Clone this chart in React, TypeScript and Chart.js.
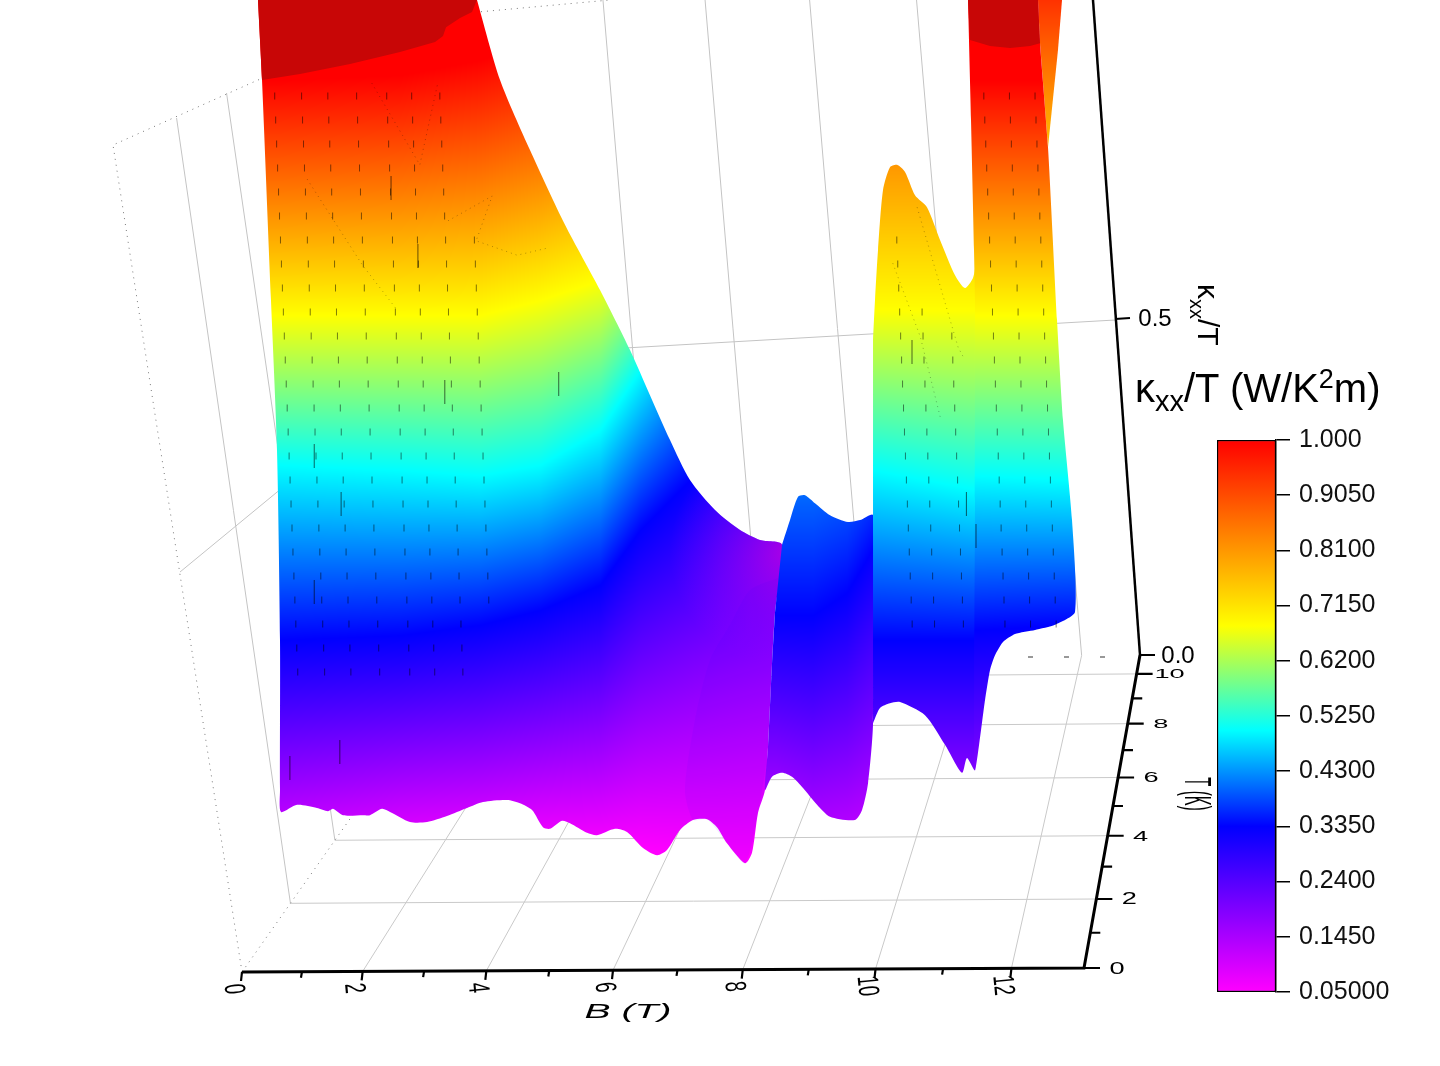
import React, { useEffect, useRef } from "react";
import { Chart, registerables } from "chart.js";

Chart.register(...registerables);

// ---------- colour scale ----------
const colorbarTicks = [1.0, 0.905, 0.81, 0.715, 0.62, 0.525, 0.43, 0.335, 0.24, 0.145, 0.05];
const colorbarLabels = ["1.000", "0.9050", "0.8100", "0.7150", "0.6200", "0.5250", "0.4300", "0.3350", "0.2400", "0.1450", "0.05000"];
const colorLevels = [1.0, 0.68, 0.5, 0.335, 0.05];
const colorRGB = [[255, 0, 0], [255, 255, 0], [0, 255, 255], [0, 0, 255], [255, 0, 255]];
const capColor = "#c80606";

// ---------- axes ----------
const bTicks = [0, 2, 4, 6, 8, 10, 12];
const bMinor = [1, 3, 5, 7, 9, 11];
const tTicks = [0, 2, 4, 6, 8, 10];
const tMinor = [1, 3, 5, 7, 9];
const bMax = 13.05;
const tMax = 10.8;

// ---------- surface outlines: B (T) and kappa/T as seen along the front ----------
const bodyB = [0.281, 0.344, 0.484, 0.578, 0.625, 0.625, 0.641, 0.891, 1.203, 1.375, 1.453, 1.609, 1.922, 2.031, 2.219, 2.344, 2.656, 2.922, 3.234, 3.547, 3.797, 4.172, 4.375, 4.563, 4.734, 4.844, 5.031, 5.156, 5.422, 5.578, 5.859, 6.047, 6.297, 6.516, 6.672, 6.875, 7.078, 7.297, 7.453, 7.609, 7.891, 8.0, 8.094, 8.203, 8.25, 8.313, 8.359, 8.469, 8.125, 7.813, 7.422, 7.031, 6.719, 6.406, 6.094, 5.625, 5.078, 4.531, 4.063, 3.703];
const bodyK = [1.1, 1.0, 0.725, 0.5375, 0.3, 0.1125, 0.085, 0.094, 0.09, 0.086, 0.089, 0.081, 0.081, 0.081, 0.089, 0.085, 0.0725, 0.0725, 0.08, 0.09, 0.0975, 0.1, 0.096, 0.0875, 0.066, 0.064, 0.074, 0.071, 0.059, 0.056, 0.064, 0.06, 0.04, 0.031, 0.0375, 0.0625, 0.075, 0.076, 0.066, 0.046, 0.021, 0.034, 0.084, 0.1125, 0.166, 0.271, 0.334, 0.419, 0.425, 0.4375, 0.4625, 0.5, 0.55, 0.606, 0.6625, 0.7375, 0.819, 0.9125, 1.0, 1.1];

const bodyCapB = [0.281, 0.344, 0.9375, 1.719, 2.5, 3.047, 3.172, 3.219, 3.438, 3.625, 3.703];
const bodyCapK = [1.1, 1.0, 1.0075, 1.02, 1.035, 1.0475, 1.055, 1.066, 1.0775, 1.085, 1.1];

const foldB = [8.406, 7.969, 7.656, 7.344, 7.109, 6.953, 7.078, 7.297, 7.609, 7.891, 8.094, 8.25, 8.359];
const foldK = [0.3775, 0.3625, 0.319, 0.275, 0.2, 0.1125, 0.075, 0.076, 0.046, 0.021, 0.084, 0.166, 0.334];

const ridgeB = [8.469, 8.594, 8.719, 8.828, 8.984, 9.219, 9.5, 9.688, 9.891, 9.891, 9.813, 9.719, 9.609, 9.219, 9.016, 8.797, 8.625, 8.469, 8.313, 8.203, 8.25, 8.313, 8.359];
const ridgeK = [0.419, 0.45, 0.479, 0.481, 0.471, 0.456, 0.4475, 0.45, 0.456, 0.196, 0.121, 0.0875, 0.075, 0.079, 0.094, 0.115, 0.129, 0.134, 0.129, 0.1125, 0.166, 0.271, 0.334];

const peakB = [9.891, 9.922, 9.969, 10.047, 10.156, 10.266, 10.391, 10.547, 10.734, 10.938, 11.172, 11.328, 11.453, 11.5, 11.531, 11.484, 11.359, 11.281, 11.016, 10.703, 10.313, 10.156, 10.0, 9.891];
const peakK = [0.675, 0.725, 0.7875, 0.8625, 0.891, 0.894, 0.885, 0.856, 0.841, 0.8, 0.756, 0.74, 0.7525, 0.769, 0.35, 0.1375, 0.1525, 0.134, 0.169, 0.206, 0.2225, 0.221, 0.215, 0.196];

const towerB = [11.375, 11.422, 11.469, 11.484, 11.484, 11.484, 11.641, 11.719, 11.797, 11.922, 12.109, 12.422, 12.734, 13.047, 13.0, 12.859, 12.766, 12.625, 12.5, 12.469];
const towerK = [1.1, 0.95, 0.7875, 0.725, 0.475, 0.1375, 0.225, 0.2625, 0.281, 0.2975, 0.3075, 0.3125, 0.319, 0.335, 0.45, 0.575, 0.7, 0.916, 1.046, 1.1];

const towerCapB = [11.375, 11.406, 11.719, 12.031, 12.344, 12.5, 12.469];
const towerCapK = [1.1, 1.05, 1.0425, 1.04, 1.0425, 1.046, 1.1];

const sliverB = [12.469, 12.844, 12.781, 12.625, 12.5];
const sliverK = [1.1, 1.1, 1.0375, 0.916, 1.046];

// ---------- height at which each colour level appears, across B ----------
const bodyKnots = [0.625, 2.5, 3.75, 4.69, 5.625, 6.25, 6.875, 7.5, 8.6];
const bodyBands = [
  [1.0, 1.006, 1.025, 1.05, 1.1, 1.1375, 1.175, 1.2125, 1.25],
  [0.706, 0.706, 0.706, 0.725, 0.75, 0.8, 0.8625, 0.925, 0.9875],
  [0.519, 0.5125, 0.506, 0.519, 0.5625, 0.6375, 0.7125, 0.7625, 0.8125],
  [0.3, 0.306, 0.319, 0.3375, 0.369, 0.4375, 0.4875, 0.5375, 0.6],
  [0, 0.025, 0.031, 0.0375, 0.0375, 0.0375, 0.031, 0.025, 0.025],
];
const ridgeKnots = [8.36, 8.95, 9.48, 9.9];
const ridgeBands = [
  [1.2, 1.2, 1.2, 1.2],
  [0.9, 0.9, 0.9, 0.9],
  [0.7, 0.7, 0.7, 0.7],
  [0.331, 0.331, 0.359, 0.416],
  [-0.019, -0.05, -0.05, -0.05],
];
const peakKnots = [9.9, 11.55];
const peakBands = [
  [1.16, 1.16],
  [0.7125, 0.7125],
  [0.5125, 0.4875],
  [0.3, 0.3],
  [-0.025, -0.025],
];
const towerKnots = [11.4, 13.1];
const towerBands = [
  [1.0, 1.0],
  [0.706, 0.706],
  [0.506, 0.5],
  [0.3125, 0.319],
  [-0.025, -0.025],
];
const sliverKnots = [12.4, 12.9];
const sliverBands = [
  [1.166, 1.166],
  [0.8325, 0.8325],
  [0.7, 0.7],
  [0.5, 0.5],
  [0.2, 0.2],
];

// ---------- small dark mesh marks on the surface ----------
const meshRows = [0.98, 0.95, 0.92, 0.89, 0.86, 0.83, 0.8, 0.77, 0.74, 0.71, 0.68, 0.65, 0.62, 0.59, 0.56, 0.53, 0.5, 0.47, 0.44, 0.41, 0.38, 0.35, 0.32, 0.29, 0.26];
const meshColB = [0.67, 1.09, 1.5, 1.95, 2.42, 2.81, 3.25, 3.7, 10.3, 10.65, 11.1, 11.75, 12.15, 12.55];
const meshHi = [0.98, 0.98, 0.98, 0.98, 0.98, 0.98, 0.98, 0.8, 0.8, 0.72, 0.7, 0.98, 0.98, 0.98];
const meshLo = [0.26, 0.26, 0.26, 0.26, 0.26, 0.26, 0.26, 0.35, 0.32, 0.32, 0.32, 0.32, 0.32, 0.32];
const longMarkB = [2.36, 2.78, 3.2, 1.16, 1.56, 0.78, 1.58, 1.16, 4.98, 10.5, 11.35, 11.5];
const longMarkK = [0.865, 0.78, 0.61, 0.53, 0.16, 0.14, 0.47, 0.36, 0.62, 0.66, 0.47, 0.43];
// faint dotted mesh traces (B, kappa/T), broken by nulls
const traceB = [2.06, 2.81, 3.09, null, 1.05, 1.91, 2.45, null, 3.25, 3.94, 3.69, 4.33, 4.81, null, 10.2, 10.63, 10.94, null, 10.58, 11.22, 11.3];
const traceK = [0.996, 0.894, 0.996, null, 0.876, 0.769, 0.713, null, 0.824, 0.855, 0.799, 0.781, 0.79, null, 0.771, 0.679, 0.579, null, 0.841, 0.666, 0.654];

// ---------- plane <-> picture helpers ----------
const toB = (px: number) => (px - 240) / 64;
const toK = (py: number) => (880 - py) / 800;
const P = (x: number, y: number) => ({ x: toB(x), y: toK(y) });
const GAP = { x: NaN, y: NaN };

const corners = [[242, 972], [1084, 968], [1140, 655], [462, 660]];
function floorPx(B: number, T: number) {
  const [[x0, y0], [x1, y1], [x2, y2], [x3, y3]] = corners;
  const s = B / bMax;
  const u = s - 0.07 * s * (1 - s);
  const v = T / tMax;
  const dx1 = x1 - x2, dx2 = x3 - x2, dx3 = x0 - x1 + x2 - x3;
  const dy1 = y1 - y2, dy2 = y3 - y2, dy3 = y0 - y1 + y2 - y3;
  const det = dx1 * dy2 - dx2 * dy1;
  const g = (dx3 * dy2 - dx2 * dy3) / det;
  const h = (dx1 * dy3 - dx3 * dy1) / det;
  const a = x1 - x0 + g * x1, b = x3 - x0 + h * x3;
  const d = y1 - y0 + g * y1, e = y3 - y0 + h * y3;
  const w = g * u + h * v + 1;
  return [(a * u + b * v + x0) / w, (d * u + e * v + y0) / w];
}
const floorP = (B: number, T: number) => {
  const [x, y] = floorPx(B, T);
  return P(x, y);
};
const poly = (bs: any[], ks: any[]) => bs.map((b, i) => (b === null ? GAP : { x: b, y: ks[i] }));

// ---------- colour field painted as a pattern ----------
function fieldPattern(chart: any, knots: number[], bands: number[][]) {
  const xs = chart.scales.x, ys = chart.scales.y;
  const W = Math.round(chart.width), H = Math.round(chart.height);
  const c = document.createElement("canvas");
  c.width = W; c.height = H;
  const g = c.getContext("2d")!;
  const img = g.createImageData(W, H);
  const d = img.data;
  const x0 = Math.max(0, Math.floor(xs.getPixelForValue(knots[0] - 0.4)));
  const x1 = Math.min(W, Math.ceil(xs.getPixelForValue(knots[knots.length - 1] + 0.4)));
  for (let x = x0; x < x1; x++) {
    const bv = xs.getValueForPixel(x);
    let k = 0;
    while (k < knots.length - 2 && bv > knots[k + 1]) k++;
    const f = Math.min(1, Math.max(0, (bv - knots[k]) / (knots[k + 1] - knots[k])));
    const yStops = bands.map((row) => ys.getPixelForValue(row[k] + (row[k + 1] - row[k]) * f));
    for (let y = 0; y < H; y++) {
      let j = 0;
      while (j < yStops.length - 2 && y > yStops[j + 1]) j++;
      const t = Math.min(1, Math.max(0, (y - yStops[j]) / (yStops[j + 1] - yStops[j])));
      const i = (y * W + x) * 4;
      for (let q = 0; q < 3; q++) d[i + q] = colorRGB[j][q] + (colorRGB[j + 1][q] - colorRGB[j][q]) * t;
      d[i + 3] = 255;
    }
  }
  g.putImageData(img, 0, 0);
  return chart.ctx.createPattern(c, "no-repeat");
}
function fieldFill(knots: number[], bands: number[][]) {
  let cached: any = null;
  return (ctx: any) => {
    const chart = ctx.chart;
    if (!chart.chartArea) return "rgba(0,0,0,0)";
    if (!cached) cached = fieldPattern(chart, knots, bands);
    return cached;
  };
}

const labelsPlugin = {
  id: "surfaceLabels",
  afterDatasetsDraw(chart: any) {
    const ctx = chart.ctx;
    const put = (text: string, x: number, y: number, font: string, rot = 0, sx = 1, sy = 1) => {
      ctx.save();
      ctx.translate(x, y);
      ctx.rotate(rot);
      ctx.scale(sx, sy);
      ctx.font = font;
      ctx.fillStyle = "#000";
      ctx.textAlign = "center";
      ctx.textBaseline = "middle";
      ctx.fillText(text, 0, 0);
      ctx.restore();
    };
    const small = '16px "Liberation Sans"';
    bTicks.forEach((b) => {
      const [x, y] = floorPx(b, 0);
      put(String(b), x - 9, y + 17, small, Math.PI * 0.47, 1.15, 1.85);
    });
    tTicks.forEach((t) => {
      const [x, y] = floorPx(bMax, t);
      put(String(t), x + 33, y + 1, small, 0, 1.7, 1.05 - t * 0.03);
    });
    put("0.0", 1178, 656, '24px "Liberation Sans"');
    put("0.5", 1155, 319, '24px "Liberation Sans"');
    put("B (T)", 628, 1012, 'italic 23px "Liberation Sans"', 0, 1.7, 0.9);
    put("T (K)", 1195, 794, '20px "Liberation Sans"', Math.PI / 2, 0.75, 1.85);

    // kappa_xx/T along the vertical axis
    ctx.save();
    ctx.translate(1208, 284);
    ctx.rotate(Math.PI / 2);
    ctx.fillStyle = "#000";
    ctx.textAlign = "left";
    ctx.textBaseline = "alphabetic";
    ctx.font = '30px "Liberation Sans"';
    ctx.fillText("κ", 0, 10);
    ctx.font = '20px "Liberation Sans"';
    ctx.fillText("xx", 15, 18);
    ctx.font = '30px "Liberation Sans"';
    ctx.fillText("/T", 35, 10);
    ctx.restore();
  },
};

function lineSet(data: any[], color: string, width: number, dash: number[] = []) {
  return { data, showLine: true, borderColor: color, borderWidth: width, borderDash: dash, pointRadius: 0, fill: false, tension: 0, spanGaps: false };
}
function areaSet(data: any[], bg: any, tension = 0) {
  return { data, showLine: true, borderWidth: 0, borderColor: "rgba(0,0,0,0)", backgroundColor: bg, pointRadius: 0, fill: "shape", tension };
}

function buildDatasets() {
  const floorLines: any[] = [];
  [2, 4, 6, 8, 10].forEach((t) => floorLines.push(floorP(0, t), floorP(bMax, t), GAP));
  bTicks.slice(1).forEach((b) => floorLines.push(floorP(b, 0), floorP(b, tMax), GAP));

  const walls: any[] = [];
  [4, 6, 8, 10, 12].forEach((b) => {
    const [x, y] = floorPx(b, tMax);
    walls.push(P(x, y), P(x - 0.085 * y, 0), GAP);
  });
  [[2, 118], [4, 93]].forEach(([t, top]) => {
    const [x, y] = floorPx(0, t);
    walls.push(P(x, y), P(x - 0.145 * (y - top), top), GAP);
  });
  walls.push(P(180, 572), P(282, 488), GAP, P(625, 348), P(1115, 320), GAP);

  const dotted = [P(242, 972), floorP(0, tMax), GAP, P(242, 972), P(113, 145), P(258, 80), P(445, 15), P(610, 0)];
  const dashes = [P(1028, 657), P(1106, 657)];

  const axes: any[] = [floorP(0, 0), floorP(bMax, 0), floorP(bMax, tMax), GAP];
  const zAxis: any[] = [P(1140, 655), P(1093, 0)];
  const ticks: any[] = [];
  const bTick = (b: number, len: number) => {
    const [x, y] = floorPx(b, 0);
    ticks.push(P(x, y), P(x - 1, y + len), GAP);
  };
  bTicks.forEach((b) => bTick(b, 9));
  bMinor.forEach((b) => bTick(b, 6));
  const tTick = (t: number, len: number) => {
    const [x, y] = floorPx(bMax, t);
    ticks.push(P(x, y), P(x + len, y), GAP);
  };
  tTicks.forEach((t) => tTick(t, 16));
  tMinor.forEach((t) => tTick(t, 10));
  ticks.push(P(1140, 655), P(1155, 655), GAP, P(1115, 319), P(1130, 318), GAP);

  const mesh: any[] = [];
  meshColB.forEach((b0, i) => {
    meshRows.forEach((k) => {
      if (k <= meshHi[i] && k >= meshLo[i]) mesh.push({ x: b0 + 0.5 * (0.725 - k), y: k });
    });
  });

  const radial = (ctx: any) => {
    const c = ctx.chart;
    if (!c.chartArea) return "rgba(0,0,0,0)";
    const x = c.scales.x.getPixelForValue(toB(785));
    const y = c.scales.y.getPixelForValue(toK(552));
    const g = c.ctx.createRadialGradient(x, y, 0, x, y, 115);
    g.addColorStop(0, "rgba(225,0,215,0.6)");
    g.addColorStop(1, "rgba(160,0,255,0)");
    return g;
  };

  const backToFront = [
    lineSet(floorLines, "#c9c9c9", 1),
    lineSet(walls, "#c4c4c4", 1),
    lineSet(dotted, "#777777", 1, [1, 5]),
    lineSet(dashes, "#777777", 1.5, [5, 31]),
    areaSet(poly(bodyB, bodyK), fieldFill(bodyKnots, bodyBands), 0.25),
    areaSet(poly(bodyB, bodyK), radial, 0.25),
    areaSet(poly(foldB, foldK), "rgba(60,0,255,0.07)", 0.25),
    areaSet(poly(bodyCapB, bodyCapK), capColor),
    areaSet(poly(ridgeB, ridgeK), fieldFill(ridgeKnots, ridgeBands), 0.25),
    areaSet(poly(peakB, peakK), fieldFill(peakKnots, peakBands), 0.25),
    areaSet(poly(sliverB, sliverK), fieldFill(sliverKnots, sliverBands)),
    areaSet(poly(towerB, towerK), fieldFill(towerKnots, towerBands), 0.2),
    areaSet(poly(towerCapB, towerCapK), capColor),
    lineSet(poly(traceB, traceK), "rgba(0,0,0,0.3)", 1, [1, 4]),
    { data: mesh, pointStyle: "line", pointRotation: 90, pointRadius: 3.5, pointBorderColor: "rgba(0,0,0,0.5)", pointBorderWidth: 1, showLine: false },
    { data: poly(longMarkB, longMarkK), pointStyle: "line", pointRotation: 90, pointRadius: 12, pointBorderColor: "rgba(0,0,0,0.6)", pointBorderWidth: 1, showLine: false },
    lineSet(axes, "#000", 3),
    lineSet(zAxis, "#000", 2.5),
    lineSet(ticks, "#000", 2.2),
  ];
  return backToFront.reverse();
}

export default function App() {
  const mainRef = useRef<HTMLCanvasElement>(null);
  const barRef = useRef<HTMLCanvasElement>(null);

  useEffect(() => {
    const main = new Chart(mainRef.current!, {
      type: "scatter",
      data: { datasets: buildDatasets() as any },
      plugins: [labelsPlugin as any],
      options: {
        animation: false,
        responsive: false,
        events: [],
        layout: { padding: 0, autoPadding: false },
        plugins: { legend: { display: false }, tooltip: { enabled: false } },
        scales: {
          x: { type: "linear", display: false, min: -3.75, max: 18.75 },
          y: { type: "linear", display: false, min: -0.2325, max: 1.1 },
        },
      },
    });

    const bar = new Chart(barRef.current!, {
      type: "bar",
      data: {
        labels: [""],
        datasets: [
          {
            data: [[0.05, 1]] as any,
            barPercentage: 1,
            categoryPercentage: 1,
            borderWidth: 1.5,
            borderColor: "#000",
            borderSkipped: false,
            backgroundColor: (ctx: any) => {
              const c = ctx.chart;
              const s = c.scales.y;
              if (!c.chartArea) return "#fff";
              const g = c.ctx.createLinearGradient(0, s.getPixelForValue(1), 0, s.getPixelForValue(0.05));
              colorLevels.forEach((lv, i) => g.addColorStop((1 - lv) / 0.95, `rgb(${colorRGB[i].join(",")})`));
              return g;
            },
          },
        ],
      },
      options: {
        animation: false,
        responsive: false,
        events: [],
        layout: { padding: { left: 17, top: 17, bottom: 24, right: 0 }, autoPadding: false },
        plugins: { legend: { display: false }, tooltip: { enabled: false } },
        scales: {
          x: { display: false },
          y: {
            position: "right",
            min: 0.05,
            max: 1,
            afterBuildTicks: (s: any) => {
              s.ticks = colorbarTicks.map((v) => ({ value: v }));
            },
            afterFit: (s: any) => {
              s.width = 164;
            },
            grid: { drawOnChartArea: false, drawTicks: true, tickLength: 14, color: "#000", lineWidth: 1.5 },
            border: { display: true, color: "#000", width: 1.5 },
            ticks: {
              autoSkip: false,
              padding: 9,
              color: "#111",
              font: { family: '"Liberation Sans"', size: 25 },
              callback: (v: any) => colorbarLabels[colorbarTicks.indexOf(Number(v))],
            },
          },
        },
      },
    });

    return () => {
      main.destroy();
      bar.destroy();
    };
  }, []);

  return (
    <div style={{ position: "absolute", left: 0, top: 0, width: 1440, height: 1066, background: "#fff", overflow: "hidden" }}>
      <canvas ref={mainRef} width={1440} height={1066} style={{ position: "absolute", left: 0, top: 0, width: 1440, height: 1066 }} />
      <canvas ref={barRef} width={240} height={600} style={{ position: "absolute", left: 1200, top: 416, width: 240, height: 600 }} />
      <div style={{ position: "absolute", left: 1135, top: 364, fontFamily: '"Liberation Sans"', fontSize: 40, lineHeight: "48px", whiteSpace: "nowrap", color: "#000" }}>
        κ<sub style={{ fontSize: 29, lineHeight: 0 }}>xx</sub>/T (W/K<sup style={{ fontSize: 27, lineHeight: 0 }}>2</sup>m)
      </div>
    </div>
  );
}
